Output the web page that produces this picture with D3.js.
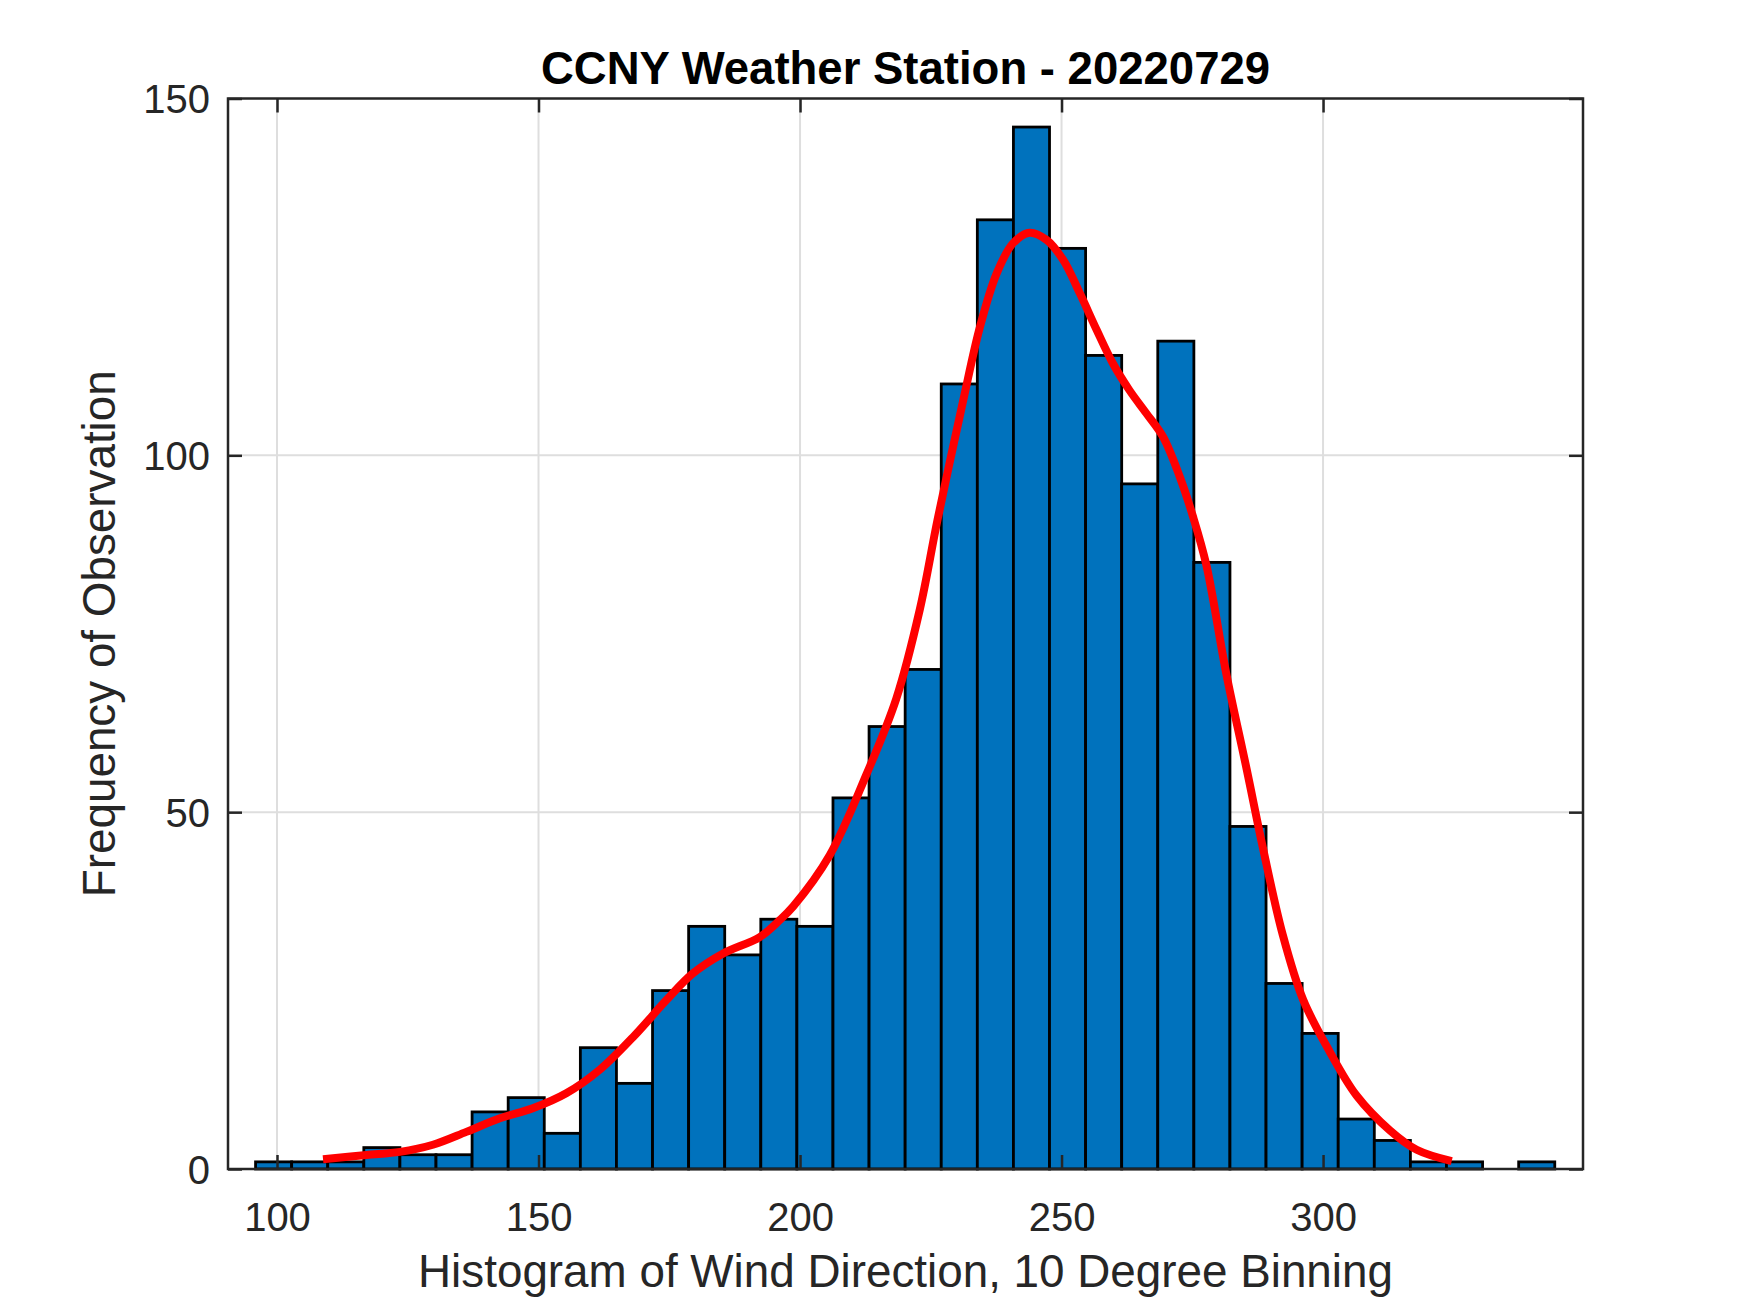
<!DOCTYPE html>
<html>
<head>
<meta charset="utf-8">
<script src="https://cdn.jsdelivr.net/npm/d3@7"></script>
<style>
  html, body { margin: 0; padding: 0; background: #ffffff; }
  svg { display: block; }
</style>
</head>
<body>
<script>
// ---- Data ----
const titleText = "CCNY Weather Station - 20220729";
const xLabelText = "Histogram of Wind Direction, 10 Degree Binning";
const yLabelText = "Frequency of Observation";

// histogram bin edges (degrees)
const binEdges = [95.9, 102.8, 109.7, 116.6, 123.5, 130.4, 137.3, 144.2, 151.1, 158.0,
  164.9, 171.8, 178.7, 185.6, 192.5, 199.4, 206.3, 213.2, 220.1, 227.0, 233.9, 240.8,
  247.7, 254.6, 261.5, 268.4, 275.3, 282.2, 289.1, 296.0, 302.9, 309.8, 316.7, 323.6,
  330.5, 337.4, 344.3];
// counts per bin
const binCounts = [1, 1, 1, 3, 2, 2, 8, 10, 5, 17, 12, 25, 34, 30, 35, 34, 52, 62, 70,
  110, 133, 146, 129, 114, 96, 116, 85, 48, 26, 19, 7, 4, 1, 1, 0, 1];

// smoothed density curve (degrees, scaled frequency)
const curveX = [108.8, 117.1, 123.5, 129.8, 136.2, 142.6, 148.9, 155.3, 161.7, 168.1,
  174.5, 179.5, 185.3, 192.3, 196.0, 198.7, 205.7, 212.7, 218.4, 222.9, 226.3, 231.2,
  234.4, 237.6, 240.7, 243.9, 247.1, 250.3, 253.5, 256.7, 259.8, 263.0, 266.2, 269.4,
  272.6, 275.1, 277.7, 281.5, 285.4, 288.5, 292.3, 296.2, 301.3, 306.4, 312.8, 317.9, 324.6];
const curveY = [1.36, 1.96, 2.4, 3.4, 5.2, 7.1, 8.5, 10.6, 13.9, 18.5,
  23.7, 27.4, 30.2, 32.5, 34.8, 36.8, 44.0, 55.3, 65.9, 78.4, 91.0, 107.7,
  118.0, 125.5, 129.7, 131.2, 130.2, 127.4, 122.7, 117.6, 112.9, 109.1, 105.9, 102.6,
  97.0, 91.5, 84.6, 69.4, 56.0, 45.0, 32.8, 23.7, 16.4, 10.3, 5.4, 2.7, 1.1];

const xTicks = [100, 150, 200, 250, 300];
const yTicks = [0, 50, 100, 150];
const xDomain = [90.63, 349.7];
const yDomain = [0, 150];

// ---- Layout ----
const W = 1750, H = 1313;
const plot = { left: 228, right: 1583, top: 98.5, bottom: 1169 };

const svg = d3.select("body").append("svg")
  .attr("width", W).attr("height", H)
  .attr("viewBox", `0 0 ${W} ${H}`);

svg.append("rect").attr("width", W).attr("height", H).attr("fill", "#ffffff");

const x = d3.scaleLinear().domain(xDomain).range([plot.left, plot.right]);
const y = d3.scaleLinear().domain(yDomain).range([plot.bottom, plot.top]);

const font = "'Liberation Sans', Arial, Helvetica, sans-serif";
const axisColor = "#262626";
const tickLen = 14;

// grid lines
const grid = svg.append("g");
grid.selectAll("line.gx").data(xTicks).join("line")
  .attr("x1", d => x(d)).attr("x2", d => x(d))
  .attr("y1", plot.top).attr("y2", plot.bottom)
  .attr("stroke", "#dedede").attr("stroke-width", 2);
grid.selectAll("line.gy").data(yTicks.filter(d => d > yDomain[0] && d < yDomain[1])).join("line")
  .attr("x1", plot.left).attr("x2", plot.right)
  .attr("y1", d => y(d)).attr("y2", d => y(d))
  .attr("stroke", "#dedede").attr("stroke-width", 2);

// bars
const bins = binCounts.map((c, i) => ({ x0: binEdges[i], x1: binEdges[i + 1], count: c }));
svg.append("g").selectAll("rect").data(bins.filter(b => b.count > 0)).join("rect")
  .attr("x", d => x(d.x0))
  .attr("width", d => x(d.x1) - x(d.x0))
  .attr("y", d => y(d.count))
  .attr("height", d => y(0) - y(d.count))
  .attr("fill", "#0072BD")
  .attr("stroke", "#000000")
  .attr("stroke-width", 2.8);

// density curve
const pts = curveX.map((v, i) => [v, curveY[i]]);
const line = d3.line().x(d => x(d[0])).y(d => y(d[1])).curve(d3.curveCatmullRom.alpha(0.5));
svg.append("path").datum(pts)
  .attr("d", line)
  .attr("fill", "none")
  .attr("stroke", "#ff0000")
  .attr("stroke-width", 8)
  .attr("stroke-linejoin", "round");

// axes using d3 axis generators (ticks inward, on all four sides)
function styleAxis(g) {
  g.select(".domain").remove();
  g.selectAll(".tick line").attr("stroke", axisColor).attr("stroke-width", 2.5);
  g.selectAll(".tick text").attr("fill", axisColor)
    .style("font-family", font).style("font-size", "40px");
}

const xAxisB = d3.axisBottom(x).tickValues(xTicks).tickSize(-tickLen).tickPadding(36).tickFormat(d3.format("d"));
svg.append("g").attr("transform", `translate(0,${plot.bottom})`).call(xAxisB).call(styleAxis)
  .selectAll(".tick text").attr("dy", null).attr("y", 62);

const xAxisT = d3.axisTop(x).tickValues(xTicks).tickSize(-tickLen).tickFormat("");
svg.append("g").attr("transform", `translate(0,${plot.top})`).call(xAxisT).call(styleAxis);

const yAxisL = d3.axisLeft(y).tickValues(yTicks).tickSize(-tickLen).tickPadding(19).tickFormat(d3.format("d"));
svg.append("g").attr("transform", `translate(${plot.left},0)`).call(yAxisL).call(styleAxis)
  .selectAll(".tick text").attr("dy", "0.358em").attr("x", -18);

const yAxisR = d3.axisRight(y).tickValues(yTicks).tickSize(-tickLen).tickFormat("");
svg.append("g").attr("transform", `translate(${plot.right},0)`).call(yAxisR).call(styleAxis);

// box
svg.append("rect")
  .attr("x", plot.left).attr("y", plot.top)
  .attr("width", plot.right - plot.left).attr("height", plot.bottom - plot.top)
  .attr("fill", "none").attr("stroke", axisColor).attr("stroke-width", 2.5);

// title and labels
svg.append("text")
  .attr("x", (plot.left + plot.right) / 2).attr("y", 84)
  .attr("text-anchor", "middle")
  .style("font-family", font).style("font-size", "45.5px").style("font-weight", "bold")
  .attr("fill", "#000000")
  .text(titleText);

svg.append("text")
  .attr("x", (plot.left + plot.right) / 2).attr("y", 1287)
  .attr("text-anchor", "middle")
  .style("font-family", font).style("font-size", "45.8px")
  .attr("fill", axisColor)
  .text(xLabelText);

svg.append("text")
  .attr("transform", `translate(115,${(plot.top + plot.bottom) / 2}) rotate(-90)`)
  .attr("text-anchor", "middle")
  .style("font-family", font).style("font-size", "45.8px")
  .attr("fill", axisColor)
  .text(yLabelText);
</script>
</body>
</html>
